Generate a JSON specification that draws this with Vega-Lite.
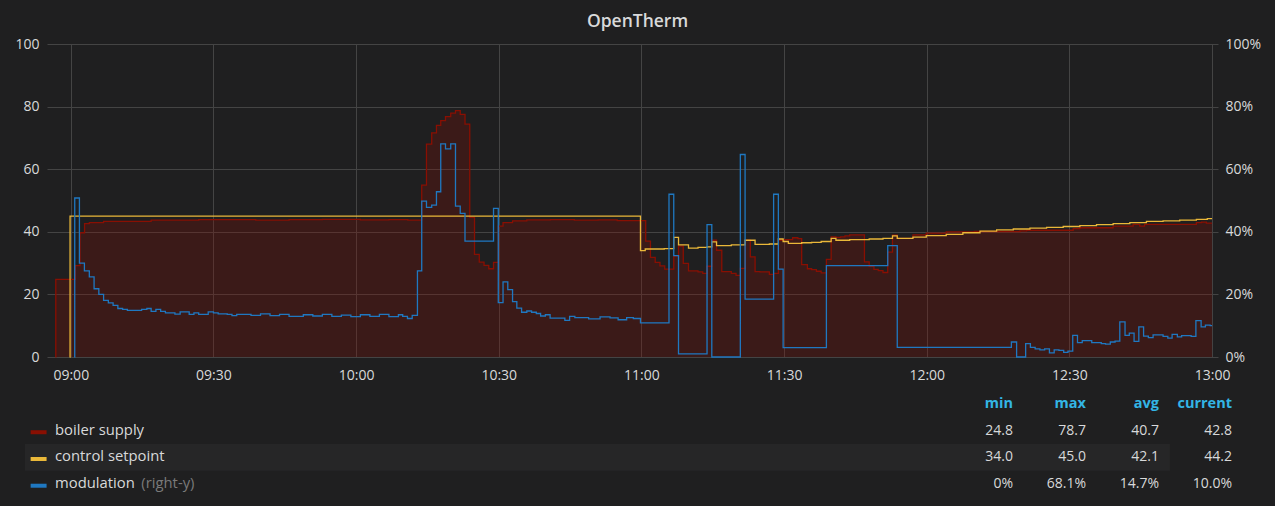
{
  "$schema": "https://vega.github.io/schema/vega-lite/v6.json",
  "background": "#1f1f20",
  "autosize": "none",
  "width": 1171,
  "height": 313,
  "padding": {"left": 47, "top": 44, "right": 57, "bottom": 149},
  "title": {"text": "OpenTherm", "anchor": "middle", "font": "Open Sans", "fontSize": 17.5, "fontWeight": 600, "color": "#d8d9da", "offset": 11, "baseline": "alphabetic", "dx": 5, "dy": 18},
  "config": {
    "view": {"stroke": null},
    "axis": {"labelFont": "Open Sans", "labelFontSize": 14, "labelColor": "#d8d9da", "gridColor": "#444444", "gridWidth": 1, "domain": false, "ticks": false}
  },
  "layer": [
    {
      "layer": [
        {
          "data": {"values": [
            {"time": "2024-01-01T08:56:48", "value": 0}, {"time": "2024-01-01T08:56:51", "value": 24.8}, {"time": "2024-01-01T09:00:57", "value": 29.2},
            {"time": "2024-01-01T09:01:57", "value": 39.7}, {"time": "2024-01-01T09:02:54", "value": 42.6}, {"time": "2024-01-01T09:03:54", "value": 42.9},
            {"time": "2024-01-01T09:06:54", "value": 43.3}, {"time": "2024-01-01T09:16:54", "value": 43.7}, {"time": "2024-01-01T09:26:54", "value": 43.9},
            {"time": "2024-01-01T09:38:54", "value": 43.7}, {"time": "2024-01-01T09:45:54", "value": 43.9}, {"time": "2024-01-01T09:52:54", "value": 44.0},
            {"time": "2024-01-01T10:00:54", "value": 43.8}, {"time": "2024-01-01T10:06:54", "value": 43.9}, {"time": "2024-01-01T10:10:54", "value": 43.7},
            {"time": "2024-01-01T10:13:48", "value": 54.9}, {"time": "2024-01-01T10:14:48", "value": 68.0}, {"time": "2024-01-01T10:15:54", "value": 71.6},
            {"time": "2024-01-01T10:16:54", "value": 74.0}, {"time": "2024-01-01T10:17:48", "value": 75.5}, {"time": "2024-01-01T10:18:48", "value": 76.8},
            {"time": "2024-01-01T10:19:54", "value": 77.9}, {"time": "2024-01-01T10:20:54", "value": 78.7}, {"time": "2024-01-01T10:21:54", "value": 77.5},
            {"time": "2024-01-01T10:22:54", "value": 74.4}, {"time": "2024-01-01T10:23:54", "value": 44.6}, {"time": "2024-01-01T10:24:54", "value": 32.8},
            {"time": "2024-01-01T10:25:54", "value": 30.3}, {"time": "2024-01-01T10:26:54", "value": 29.3}, {"time": "2024-01-01T10:27:54", "value": 28.2},
            {"time": "2024-01-01T10:28:54", "value": 30.2}, {"time": "2024-01-01T10:29:54", "value": 41.8}, {"time": "2024-01-01T10:30:54", "value": 42.9},
            {"time": "2024-01-01T10:32:54", "value": 43.5}, {"time": "2024-01-01T10:35:54", "value": 43.8}, {"time": "2024-01-01T10:40:54", "value": 43.9},
            {"time": "2024-01-01T10:45:54", "value": 43.7}, {"time": "2024-01-01T10:50:54", "value": 43.8}, {"time": "2024-01-01T10:54:54", "value": 43.6},
            {"time": "2024-01-01T11:00:54", "value": 37.0}, {"time": "2024-01-01T11:01:54", "value": 31.8}, {"time": "2024-01-01T11:02:54", "value": 30.2},
            {"time": "2024-01-01T11:03:54", "value": 29.1}, {"time": "2024-01-01T11:04:54", "value": 28.1}, {"time": "2024-01-01T11:06:48", "value": 32.2},
            {"time": "2024-01-01T11:07:48", "value": 35.4}, {"time": "2024-01-01T11:08:48", "value": 29.9}, {"time": "2024-01-01T11:09:54", "value": 27.5},
            {"time": "2024-01-01T11:11:54", "value": 27.2}, {"time": "2024-01-01T11:12:54", "value": 26.7}, {"time": "2024-01-01T11:13:48", "value": 29.0},
            {"time": "2024-01-01T11:14:48", "value": 37.3}, {"time": "2024-01-01T11:15:48", "value": 34.1}, {"time": "2024-01-01T11:16:54", "value": 27.3},
            {"time": "2024-01-01T11:18:54", "value": 26.7}, {"time": "2024-01-01T11:19:54", "value": 26.1}, {"time": "2024-01-01T11:20:48", "value": 28.3},
            {"time": "2024-01-01T11:21:48", "value": 37.3}, {"time": "2024-01-01T11:22:54", "value": 32.0}, {"time": "2024-01-01T11:23:54", "value": 27.3},
            {"time": "2024-01-01T11:24:54", "value": 27.2}, {"time": "2024-01-01T11:26:54", "value": 26.4}, {"time": "2024-01-01T11:27:48", "value": 26.7},
            {"time": "2024-01-01T11:28:48", "value": 37.3}, {"time": "2024-01-01T11:29:48", "value": 37.5}, {"time": "2024-01-01T11:31:48", "value": 38.1},
            {"time": "2024-01-01T11:32:54", "value": 37.8}, {"time": "2024-01-01T11:33:42", "value": 29.5}, {"time": "2024-01-01T11:34:54", "value": 28.2},
            {"time": "2024-01-01T11:35:48", "value": 27.9}, {"time": "2024-01-01T11:36:48", "value": 27.4}, {"time": "2024-01-01T11:37:48", "value": 26.9},
            {"time": "2024-01-01T11:38:54", "value": 31.2}, {"time": "2024-01-01T11:39:54", "value": 38.4}, {"time": "2024-01-01T11:40:54", "value": 38.2},
            {"time": "2024-01-01T11:41:54", "value": 38.4}, {"time": "2024-01-01T11:42:48", "value": 38.7}, {"time": "2024-01-01T11:43:48", "value": 39.0},
            {"time": "2024-01-01T11:46:54", "value": 30.4}, {"time": "2024-01-01T11:47:54", "value": 29.0}, {"time": "2024-01-01T11:48:54", "value": 28.0},
            {"time": "2024-01-01T11:49:48", "value": 27.6}, {"time": "2024-01-01T11:50:48", "value": 27.0}, {"time": "2024-01-01T11:51:48", "value": 33.5},
            {"time": "2024-01-01T11:52:48", "value": 38.9}, {"time": "2024-01-01T11:53:48", "value": 37.9}, {"time": "2024-01-01T11:57:06", "value": 39.0},
            {"time": "2024-01-01T11:59:54", "value": 39.6}, {"time": "2024-01-01T12:04:06", "value": 40.0}, {"time": "2024-01-01T12:10:00", "value": 40.1},
            {"time": "2024-01-01T12:19:36", "value": 40.3}, {"time": "2024-01-01T12:21:00", "value": 40.5}, {"time": "2024-01-01T12:30:48", "value": 41.0},
            {"time": "2024-01-01T12:32:12", "value": 41.3}, {"time": "2024-01-01T12:39:12", "value": 41.8}, {"time": "2024-01-01T12:43:24", "value": 42.4},
            {"time": "2024-01-01T12:44:48", "value": 41.8}, {"time": "2024-01-01T12:45:48", "value": 42.4}, {"time": "2024-01-01T12:56:42", "value": 42.9},
            {"time": "2024-01-01T12:57:48", "value": 43.1}, {"time": "2024-01-01T12:58:48", "value": 42.8}, {"time": "2024-01-01T13:00:00", "value": 42.8}
          ]},
          "mark": {"type": "area", "interpolate": "step-after", "color": "#890f02", "fillOpacity": 0.27, "line": {"color": "#890f02", "strokeWidth": 1.3}},
          "encoding": {
            "x": {"field": "time", "type": "temporal", "scale": {"domain": [{"year": 2024, "month": 1, "date": 1, "hours": 8, "minutes": 55}, {"year": 2024, "month": 1, "date": 1, "hours": 13, "minutes": 1, "seconds": 15}]},
              "axis": {"format": "%H:%M", "tickCount": 8, "grid": true, "labelPadding": 11, "title": null}},
            "y": {"field": "value", "type": "quantitative", "scale": {"domain": [0, 100], "nice": false},
              "axis": {"values": [0, 20, 40, 60, 80, 100], "grid": true, "labelPadding": 8, "title": null}}
          }
        },
        {
          "data": {"values": [
            {"time": "2024-01-01T08:59:45", "value": 0}, {"time": "2024-01-01T08:59:51", "value": 45.0}, {"time": "2024-01-01T10:59:48", "value": 34.0},
            {"time": "2024-01-01T11:00:48", "value": 34.5}, {"time": "2024-01-01T11:04:48", "value": 34.6}, {"time": "2024-01-01T11:06:48", "value": 38.2},
            {"time": "2024-01-01T11:07:48", "value": 35.8}, {"time": "2024-01-01T11:09:54", "value": 34.8}, {"time": "2024-01-01T11:11:54", "value": 35.0},
            {"time": "2024-01-01T11:13:48", "value": 35.2}, {"time": "2024-01-01T11:14:48", "value": 36.8}, {"time": "2024-01-01T11:15:48", "value": 35.6},
            {"time": "2024-01-01T11:18:54", "value": 35.8}, {"time": "2024-01-01T11:21:48", "value": 37.3}, {"time": "2024-01-01T11:23:54", "value": 36.0},
            {"time": "2024-01-01T11:26:54", "value": 36.1}, {"time": "2024-01-01T11:28:48", "value": 37.7}, {"time": "2024-01-01T11:29:48", "value": 36.9},
            {"time": "2024-01-01T11:30:54", "value": 36.3}, {"time": "2024-01-01T11:33:42", "value": 36.5}, {"time": "2024-01-01T11:35:48", "value": 36.6},
            {"time": "2024-01-01T11:37:48", "value": 36.9}, {"time": "2024-01-01T11:39:54", "value": 37.9}, {"time": "2024-01-01T11:40:54", "value": 37.3},
            {"time": "2024-01-01T11:43:48", "value": 37.5}, {"time": "2024-01-01T11:47:54", "value": 37.7}, {"time": "2024-01-01T11:50:48", "value": 37.9},
            {"time": "2024-01-01T11:52:48", "value": 38.7}, {"time": "2024-01-01T11:53:48", "value": 37.9}, {"time": "2024-01-01T11:57:06", "value": 38.3},
            {"time": "2024-01-01T11:59:54", "value": 38.8}, {"time": "2024-01-01T12:04:06", "value": 39.2}, {"time": "2024-01-01T12:07:36", "value": 39.7},
            {"time": "2024-01-01T12:11:12", "value": 40.2}, {"time": "2024-01-01T12:14:42", "value": 40.6}, {"time": "2024-01-01T12:18:12", "value": 40.9},
            {"time": "2024-01-01T12:21:42", "value": 41.2}, {"time": "2024-01-01T12:25:12", "value": 41.4}, {"time": "2024-01-01T12:28:42", "value": 41.7},
            {"time": "2024-01-01T12:32:12", "value": 42.0}, {"time": "2024-01-01T12:35:42", "value": 42.3}, {"time": "2024-01-01T12:39:12", "value": 42.6},
            {"time": "2024-01-01T12:42:42", "value": 42.9}, {"time": "2024-01-01T12:46:12", "value": 43.3}, {"time": "2024-01-01T12:49:42", "value": 43.5},
            {"time": "2024-01-01T12:53:12", "value": 43.7}, {"time": "2024-01-01T12:56:42", "value": 44.0}, {"time": "2024-01-01T12:59:00", "value": 44.2},
            {"time": "2024-01-01T13:00:00", "value": 44.2}
          ]},
          "mark": {"type": "line", "interpolate": "step-after", "color": "#eab839", "strokeWidth": 1.3},
          "encoding": {
            "x": {"field": "time", "type": "temporal"},
            "y": {"field": "value", "type": "quantitative"}
          }
        }
      ]
    },
    {
      "data": {"values": [
        {"time": "2024-01-01T09:00:45", "value": 0}, {"time": "2024-01-01T09:00:50", "value": 50.8}, {"time": "2024-01-01T09:01:49", "value": 30.0},
        {"time": "2024-01-01T09:02:52", "value": 27.5}, {"time": "2024-01-01T09:03:54", "value": 25.6}, {"time": "2024-01-01T09:04:54", "value": 21.8},
        {"time": "2024-01-01T09:05:54", "value": 20.0}, {"time": "2024-01-01T09:06:54", "value": 18.1}, {"time": "2024-01-01T09:07:54", "value": 17.3},
        {"time": "2024-01-01T09:08:54", "value": 16.5}, {"time": "2024-01-01T09:09:54", "value": 15.5}, {"time": "2024-01-01T09:10:54", "value": 15.2},
        {"time": "2024-01-01T09:11:54", "value": 14.9}, {"time": "2024-01-01T09:14:54", "value": 15.2}, {"time": "2024-01-01T09:16:00", "value": 15.5},
        {"time": "2024-01-01T09:16:54", "value": 14.6}, {"time": "2024-01-01T09:17:54", "value": 15.2}, {"time": "2024-01-01T09:18:54", "value": 14.6},
        {"time": "2024-01-01T09:19:54", "value": 14.1}, {"time": "2024-01-01T09:21:54", "value": 13.7}, {"time": "2024-01-01T09:23:00", "value": 14.4},
        {"time": "2024-01-01T09:24:54", "value": 13.6}, {"time": "2024-01-01T09:25:54", "value": 14.1}, {"time": "2024-01-01T09:26:54", "value": 13.6},
        {"time": "2024-01-01T09:28:54", "value": 14.4}, {"time": "2024-01-01T09:30:00", "value": 14.1}, {"time": "2024-01-01T09:31:00", "value": 13.8},
        {"time": "2024-01-01T09:32:54", "value": 13.6}, {"time": "2024-01-01T09:33:54", "value": 13.2}, {"time": "2024-01-01T09:34:54", "value": 13.6},
        {"time": "2024-01-01T09:37:54", "value": 13.3}, {"time": "2024-01-01T09:39:54", "value": 13.8}, {"time": "2024-01-01T09:41:54", "value": 13.2},
        {"time": "2024-01-01T09:43:54", "value": 13.6}, {"time": "2024-01-01T09:45:54", "value": 13.0}, {"time": "2024-01-01T09:48:54", "value": 13.5},
        {"time": "2024-01-01T09:50:54", "value": 13.1}, {"time": "2024-01-01T09:52:54", "value": 13.6}, {"time": "2024-01-01T09:54:54", "value": 13.0},
        {"time": "2024-01-01T09:56:54", "value": 13.4}, {"time": "2024-01-01T09:58:54", "value": 12.9}, {"time": "2024-01-01T10:00:54", "value": 13.5},
        {"time": "2024-01-01T10:02:54", "value": 13.0}, {"time": "2024-01-01T10:04:54", "value": 13.6}, {"time": "2024-01-01T10:06:54", "value": 12.9},
        {"time": "2024-01-01T10:08:54", "value": 13.5}, {"time": "2024-01-01T10:09:48", "value": 13.0}, {"time": "2024-01-01T10:10:48", "value": 12.3},
        {"time": "2024-01-01T10:11:48", "value": 13.3}, {"time": "2024-01-01T10:12:54", "value": 27.5}, {"time": "2024-01-01T10:13:48", "value": 49.8},
        {"time": "2024-01-01T10:14:48", "value": 47.8}, {"time": "2024-01-01T10:15:54", "value": 48.5}, {"time": "2024-01-01T10:16:54", "value": 52.8},
        {"time": "2024-01-01T10:17:48", "value": 68.1}, {"time": "2024-01-01T10:18:48", "value": 66.5}, {"time": "2024-01-01T10:19:54", "value": 68.1},
        {"time": "2024-01-01T10:20:54", "value": 48.2}, {"time": "2024-01-01T10:21:54", "value": 45.9}, {"time": "2024-01-01T10:22:54", "value": 37.0},
        {"time": "2024-01-01T10:28:54", "value": 47.5}, {"time": "2024-01-01T10:29:54", "value": 17.4}, {"time": "2024-01-01T10:30:54", "value": 24.0},
        {"time": "2024-01-01T10:31:54", "value": 21.5}, {"time": "2024-01-01T10:32:54", "value": 17.7}, {"time": "2024-01-01T10:33:48", "value": 15.6},
        {"time": "2024-01-01T10:34:48", "value": 14.3}, {"time": "2024-01-01T10:35:54", "value": 14.7}, {"time": "2024-01-01T10:36:54", "value": 14.3},
        {"time": "2024-01-01T10:37:54", "value": 13.9}, {"time": "2024-01-01T10:38:48", "value": 13.1}, {"time": "2024-01-01T10:39:48", "value": 13.5},
        {"time": "2024-01-01T10:40:48", "value": 12.4}, {"time": "2024-01-01T10:43:54", "value": 11.7}, {"time": "2024-01-01T10:44:54", "value": 13.0},
        {"time": "2024-01-01T10:46:00", "value": 12.6}, {"time": "2024-01-01T10:48:54", "value": 12.2}, {"time": "2024-01-01T10:51:18", "value": 12.8},
        {"time": "2024-01-01T10:53:24", "value": 12.5}, {"time": "2024-01-01T10:55:06", "value": 11.9}, {"time": "2024-01-01T10:56:54", "value": 12.6},
        {"time": "2024-01-01T10:58:18", "value": 12.3}, {"time": "2024-01-01T10:59:48", "value": 10.9}, {"time": "2024-01-01T11:05:48", "value": 52.0},
        {"time": "2024-01-01T11:06:48", "value": 32.4}, {"time": "2024-01-01T11:07:48", "value": 1.0}, {"time": "2024-01-01T11:13:48", "value": 42.3},
        {"time": "2024-01-01T11:14:48", "value": 0}, {"time": "2024-01-01T11:20:48", "value": 64.7}, {"time": "2024-01-01T11:21:48", "value": 18.5},
        {"time": "2024-01-01T11:27:48", "value": 52.0}, {"time": "2024-01-01T11:28:48", "value": 28.1}, {"time": "2024-01-01T11:29:48", "value": 3.0},
        {"time": "2024-01-01T11:38:54", "value": 29.2}, {"time": "2024-01-01T11:51:48", "value": 35.6}, {"time": "2024-01-01T11:53:48", "value": 3.1},
        {"time": "2024-01-01T12:17:48", "value": 4.8}, {"time": "2024-01-01T12:18:54", "value": 0}, {"time": "2024-01-01T12:20:48", "value": 4.3},
        {"time": "2024-01-01T12:21:48", "value": 3.1}, {"time": "2024-01-01T12:22:48", "value": 2.6}, {"time": "2024-01-01T12:23:48", "value": 2.3},
        {"time": "2024-01-01T12:24:48", "value": 2.6}, {"time": "2024-01-01T12:25:48", "value": 1.3}, {"time": "2024-01-01T12:26:48", "value": 2.3},
        {"time": "2024-01-01T12:27:48", "value": 2.1}, {"time": "2024-01-01T12:28:48", "value": 1.5}, {"time": "2024-01-01T12:29:42", "value": 1.9},
        {"time": "2024-01-01T12:30:42", "value": 6.9}, {"time": "2024-01-01T12:31:42", "value": 4.6}, {"time": "2024-01-01T12:32:42", "value": 5.2},
        {"time": "2024-01-01T12:34:42", "value": 4.6}, {"time": "2024-01-01T12:36:42", "value": 4.3}, {"time": "2024-01-01T12:37:36", "value": 4.1},
        {"time": "2024-01-01T12:38:36", "value": 4.8}, {"time": "2024-01-01T12:39:36", "value": 5.1}, {"time": "2024-01-01T12:40:36", "value": 11.2},
        {"time": "2024-01-01T12:41:42", "value": 6.9}, {"time": "2024-01-01T12:42:36", "value": 7.6}, {"time": "2024-01-01T12:43:36", "value": 5.0},
        {"time": "2024-01-01T12:44:36", "value": 9.6}, {"time": "2024-01-01T12:45:36", "value": 6.7}, {"time": "2024-01-01T12:46:36", "value": 6.2},
        {"time": "2024-01-01T12:47:36", "value": 7.1}, {"time": "2024-01-01T12:49:42", "value": 6.6}, {"time": "2024-01-01T12:50:42", "value": 6.0},
        {"time": "2024-01-01T12:51:36", "value": 7.2}, {"time": "2024-01-01T12:52:42", "value": 6.4}, {"time": "2024-01-01T12:53:36", "value": 6.8},
        {"time": "2024-01-01T12:55:36", "value": 6.6}, {"time": "2024-01-01T12:56:36", "value": 11.6}, {"time": "2024-01-01T12:57:42", "value": 9.6},
        {"time": "2024-01-01T12:58:36", "value": 10.2}, {"time": "2024-01-01T12:59:36", "value": 10.0}, {"time": "2024-01-01T13:00:00", "value": 10.0}
      ]},
      "mark": {"type": "line", "interpolate": "step-after", "color": "#1f78c1", "strokeWidth": 1.3},
      "encoding": {
        "x": {"field": "time", "type": "temporal", "scale": {"domain": [{"year": 2024, "month": 1, "date": 1, "hours": 8, "minutes": 55}, {"year": 2024, "month": 1, "date": 1, "hours": 13, "minutes": 1, "seconds": 15}]}, "axis": null},
        "y": {"field": "value", "type": "quantitative", "scale": {"domain": [0, 100], "nice": false},
          "axis": {"orient": "right", "values": [0, 20, 40, 60, 80, 100], "grid": false, "labelExpr": "datum.value + '%'", "labelPadding": 7, "title": null}}
      }
    },
    {
      "data": {"values": [
        {"series": "boiler supply", "note": ""},
        {"series": "control setpoint", "note": ""},
        {"series": "modulation", "note": "(right-y)"}
      ]},
      "layer": [
        {
          "transform": [{"filter": "datum.series === 'control setpoint'"}],
          "mark": {"type": "rect", "color": "#262627"},
          "encoding": {
            "x": {"datum": 0, "type": "quantitative", "scale": {"domain": [0, 1220], "range": [-22, 1198]}, "axis": null},
            "x2": {"datum": 1220},
            "y": {"field": "series", "type": "nominal", "scale": {"domain": ["header", "boiler supply", "control setpoint", "modulation"], "range": [346.6, 453.6], "paddingInner": 0, "paddingOuter": 0}, "axis": null}
          }
        },
        {
          "mark": {"type": "rule", "strokeWidth": 4, "yOffset": 1.5},
          "encoding": {
            "x": {"datum": 6, "type": "quantitative"},
            "x2": {"datum": 23},
            "y": {"field": "series", "type": "nominal"},
            "color": {"field": "series", "type": "nominal", "scale": {"domain": ["boiler supply", "control setpoint", "modulation"], "range": ["#890f02", "#eab839", "#1f78c1"]}, "legend": null}
          }
        },
        {
          "mark": {"type": "text", "align": "left", "baseline": "middle", "font": "Open Sans", "fontSize": 14.8, "color": "#d8d9da"},
          "encoding": {
            "x": {"datum": 32, "type": "quantitative"},
            "y": {"field": "series", "type": "nominal"},
            "text": {"field": "series"}
          }
        },
        {
          "transform": [{"filter": "datum.note !== ''"}],
          "mark": {"type": "text", "align": "left", "baseline": "middle", "font": "Open Sans", "fontSize": 14.8, "color": "#7a7a7a"},
          "encoding": {
            "x": {"datum": 124, "type": "quantitative"},
            "y": {"field": "series", "type": "nominal"},
            "text": {"field": "note"}
          }
        }
      ]
    },
    {
      "data": {"values": [
        {"series": "boiler supply", "min": "24.8", "max": "78.7", "avg": "40.7", "current": "42.8"},
        {"series": "control setpoint", "min": "34.0", "max": "45.0", "avg": "42.1", "current": "44.2"},
        {"series": "modulation", "min": "0%", "max": "68.1%", "avg": "14.7%", "current": "10.0%"}
      ]},
      "transform": [{"fold": ["min", "max", "avg", "current"], "as": ["stat", "shown"]}],
      "layer": [
        {
          "mark": {"type": "text", "align": "right", "baseline": "middle", "font": "Open Sans", "fontSize": 14, "color": "#d8d9da"},
          "encoding": {
            "x": {"field": "stat", "type": "nominal", "scale": {"type": "point", "domain": ["min", "max", "avg", "current"], "range": [966, 1185], "padding": 0}, "axis": null},
            "y": {"field": "series", "type": "nominal", "scale": {"domain": ["header", "boiler supply", "control setpoint", "modulation"], "range": [346.6, 453.6], "paddingInner": 0, "paddingOuter": 0}, "axis": null},
            "text": {"field": "shown"}
          }
        },
        {
          "transform": [{"filter": "datum.series === 'boiler supply'"}],
          "mark": {"type": "text", "align": "right", "baseline": "middle", "font": "Open Sans", "fontSize": 14.5, "fontWeight": "bold", "color": "#33b5e5"},
          "encoding": {
            "x": {"field": "stat", "type": "nominal"},
            "y": {"datum": "header", "type": "nominal"},
            "text": {"field": "stat"}
          }
        }
      ]
    }
  ],
  "resolve": {"scale": {"x": "independent", "y": "independent"}}
}
